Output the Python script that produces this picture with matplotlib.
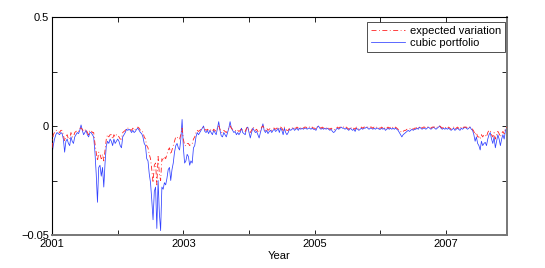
import numpy as np
import matplotlib
matplotlib.use("Agg")
import matplotlib.pyplot as plt

plt.rcParams['font.family'] = ['Liberation Sans', 'DejaVu Sans']

# weekly values, in thousandths (1e-3)
cubic_2001 = [-13, -9, -6, -4, -3, -3.5, -4, -3, -3.5, -6, -12, -7, -6,
              -8, -9, -5, -7, -8, -5, -4, -3, -3.5, -2, 0.5, -2, -4,
              -3, -2, -4, -5, -3, -3, -4, -5, -12, -22, -35, -19, -18,
              -23, -19, -28, -17, -9, -7, -8, -6, -7, -9, -6, -8, -7]
expected_2001 = [-10, -4, -3, -2, -2, -2.5, -3, -2, -2, -4, -7, -5, -4,
                 -6, -6, -3, -5, -5, -3, -2.5, -2, -2.5, -1, -1, -1.5, -2.5,
                 -2, -1.5, -3, -4, -2, -2, -3, -3, -8, -12, -16, -12, -13,
                 -15, -13, -16, -11, -6, -4, -5, -4, -4, -6, -4, -5, -4]
cubic_2002 = [-6, -7, -9, -10, -5, -4, -3, -1.5, -2, -1.5, -2, -3, -2,
              -3, -2.5, -1.5, -1, -2, -3, -3.5, -5, -8, -9, -15, -16, -22,
              -26, -34, -43, -30, -28, -47, -25, -40, -48, -28, -29, -26, -27,
              -24, -20, -19, -25, -20, -17, -12, -9, -8, -10, -11, -6, 3]
expected_2002 = [-4, -5, -6, -6, -3, -2.5, -2, -1, -1, -1, -1.5, -2, -1,
                 -2, -1.5, -1, -0.5, -1, -2, -2, -3, -5, -6, -9, -10, -13,
                 -15, -20, -26, -18, -17, -27, -14, -22, -25, -15, -16, -14, -15,
                 -13, -11, -10, -13, -11, -9, -7, -5, -5, -6, -6, -4, -1]
cubic_2003 = [-10, -17, -16, -13, -14, -18, -16, -17, -10, -9, -5, -3, -4,
              -3, -2, -1, 0, -2.5, -3, -2, -3.5, -2, -3, -4, -2, -3,
              -4, -1, 2, -2, -4.5, -5, -3, -4, -5, -3, -1, 2, -1,
              -2, -3, -2.5, -4, -3, -4, -3, -1, -3, -3.5, -4, -1, -0.5]
expected_2003 = [-6, -9, -9, -8, -8, -9, -8, -8, -6, -5, -3, -2, -2.5,
                 -2, -1.5, -1, -0.5, -1.5, -2, -1.5, -2, -1.5, -2, -2.5, -1.5, -2,
                 -2.5, -1, 0, -1.5, -3, -3, -2, -2.5, -3, -2, -1, 0, -1,
                 -1.5, -2, -2, -2.5, -2, -2.5, -2, -1, -2, -2, -2.5, -1, -0.5]
cubic_2004 = [-3, -5.5, -3, -1, -2, -3, -2.5, -4, -5.5, -3, -1, 1, -2,
              -3, -2, -3.5, -2.5, -2, -3, -2, -1.5, -2.5, -2, -1, -3, -1,
              -2, -4, -1, -3, -4, -3, -1.5, -2, -1.5, -1, -2, -1.5, -1,
              -2, -1, -1.5, -1, -1.5, -1, -1, -1.5, -1, -1, -1.5, -1, -1.5]
expected_2004 = [-2, -3, -2, -0.5, -1, -2, -1.5, -2.5, -3, -2, -0.5, 0, -1,
                 -2, -1, -2, -1.5, -1, -2, -1, -1, -1.5, -1, -0.5, -1.5, -0.5,
                 -1, -2, -0.5, -1.5, -2, -2, -1, -1, -1, -0.5, -1, -1, -0.5,
                 -1, -0.5, -1, -0.5, -1, -0.5, -0.5, -1, -0.5, -0.5, -1, -0.5, -1]
cubic_2005 = [-1.5, -2, -0.5, 0, -1, -1.5, -1, -1.5, -1, -1.5, -1, -1.5, -2,
              -1.5, -2.5, -3, -2.5, -1.5, -1, -1.5, -1, -0.5, -1, -1, -1.5, -1,
              -1.5, -2, -1, -1.5, -2, -1.5, -2.5, -1, -1.5, -2, -1.5, -1, -1.5,
              -1, -1, -0.5, -1, -1.5, -1, -1, -1.5, -1, -1.5, -1, -1, -1.5]
expected_2005 = [-1, -1.5, -0.5, -0.5, -0.5, -1, -0.5, -1, -0.5, -1, -0.5, -1, -1.5,
                 -1, -1.5, -2, -1.5, -1, -0.5, -1, -0.5, -0.5, -0.5, -0.5, -1, -0.5,
                 -1, -1.5, -0.5, -1, -1.5, -1, -1.5, -0.5, -1, -1.5, -1, -0.5, -1,
                 -0.5, -0.5, -0.5, -0.5, -1, -0.5, -0.5, -1, -0.5, -1, -0.5, -0.5, -1]
cubic_2006 = [-1.5, -1, -1.5, -1, -2, -1.5, -1, -1.5, -1, -1.5, -1, -1.5, -1,
              -1.5, -2, -3, -4, -5, -4, -3.5, -3, -2.5, -2, -2.5, -2, -1.5,
              -2, -1.5, -1.5, -1, -1.5, -0.5, -1, -1.5, -1, -1, -1.5, -1, -0.5,
              -1, -1.5, -1, -0.5, -1, -1.5, -1, -0.5, 0, -1, -1.5, -1, -1.5]
expected_2006 = [-1, -0.5, -1, -0.5, -1.5, -1, -0.5, -1, -0.5, -1, -0.5, -1, -0.5,
                 -1, -1.5, -2, -2.5, -3, -2.5, -2, -2, -1.5, -1.5, -1.5, -1, -1,
                 -1.5, -1, -1, -0.5, -1, -0.5, -0.5, -1, -0.5, -0.5, -1, -0.5, -0.5,
                 -0.5, -1, -0.5, -0.5, -0.5, -1, -0.5, -0.5, 0, -0.5, -1, -0.5, -1]
cubic_2007 = [-1, -1.5, -1, -1.5, -2, -1.5, -1, -2, -1.5, -1, -1.5, -2, -1,
              -1.5, -1, -0.5, -1, -1.5, -1, -0.5, -1.5, -2, -4, -7, -5, -8,
              -9, -11, -7, -9, -8, -7.5, -9, -6, -4, -3, -6, -8, -5,
              -10, -7, -4, -6, -9, -6, -4, -6, -2, -1]
expected_2007 = [-0.5, -1, -0.5, -1, -1.5, -1, -0.5, -1.5, -1, -0.5, -1, -1.5, -0.5,
                 -1, -0.5, -0.5, -0.5, -1, -0.5, -0.5, -1, -1.5, -2.5, -4, -3, -5,
                 -5, -6, -4, -5, -4, -4, -5, -3, -2, -2, -4, -5, -3,
                 -6, -4, -2.5, -3.5, -5, -3.5, -2.5, -3.5, -1, -0.5]

cubic = np.array(cubic_2001 + cubic_2002 + cubic_2003 + cubic_2004 +
                 cubic_2005 + cubic_2006 + cubic_2007) * 1e-3
expected = np.array(expected_2001 + expected_2002 + expected_2003 + expected_2004 +
                    expected_2005 + expected_2006 + expected_2007) * 1e-3
years = 2001 + np.arange(len(cubic)) / 52.0

ytick_vals = [-0.05, -0.025, 0, 0.025, 0.05]
ytick_labels = ['\u22120.05', '', '0', '', '0.5']
xtick_vals = [2001, 2002, 2003, 2004, 2005, 2006, 2007]
xtick_labels = ['2001', '', '2003', '', '2005', '', '2007']

fig = plt.figure(figsize=(5.45, 2.68), dpi=100)
ax = fig.add_axes([52/545, 33/268, 454.7/545, 218/268])

ax.plot(years, cubic, color='#3040ff', lw=0.55, label='cubic portfolio', zorder=2)
ax.plot(years, expected, color='#ff2222', lw=0.6, ls=(0, (6, 3, 1, 3)),
        label='expected variation', zorder=3)

ax.set_xlim(2001, years[-1])
ax.set_ylim(-0.05, 0.05)
ax.set_yticks(ytick_vals)
ax.set_yticklabels(ytick_labels)
ax.set_xticks(xtick_vals)
ax.set_xticklabels(xtick_labels)
ax.tick_params(direction='in', length=3.5, width=0.6, top=True, right=True,
               labelsize=8, pad=2, colors='black')
ax.tick_params(axis='x', pad=3)
ax.set_xlabel('Year', fontsize=8, labelpad=1)
for s in ax.spines.values():
    s.set_linewidth(0.8)
ax.spines['bottom'].set_color('#777777')
ax.spines['right'].set_color('#777777')
ax.spines['bottom'].set_linewidth(1.4)
ax.spines['right'].set_linewidth(1.4)

h, l = ax.get_legend_handles_labels()
leg = ax.legend([h[1], h[0]], [l[1], l[0]], loc='upper right',
                bbox_to_anchor=(0.997, 0.978), borderaxespad=0, fontsize=8,
                frameon=True, fancybox=False, edgecolor='black',
                handlelength=3.0, handletextpad=0.5, borderpad=0.35,
                labelspacing=0.2)
leg.get_frame().set_linewidth(0.6)

fig.savefig('out.png', dpi=100)
